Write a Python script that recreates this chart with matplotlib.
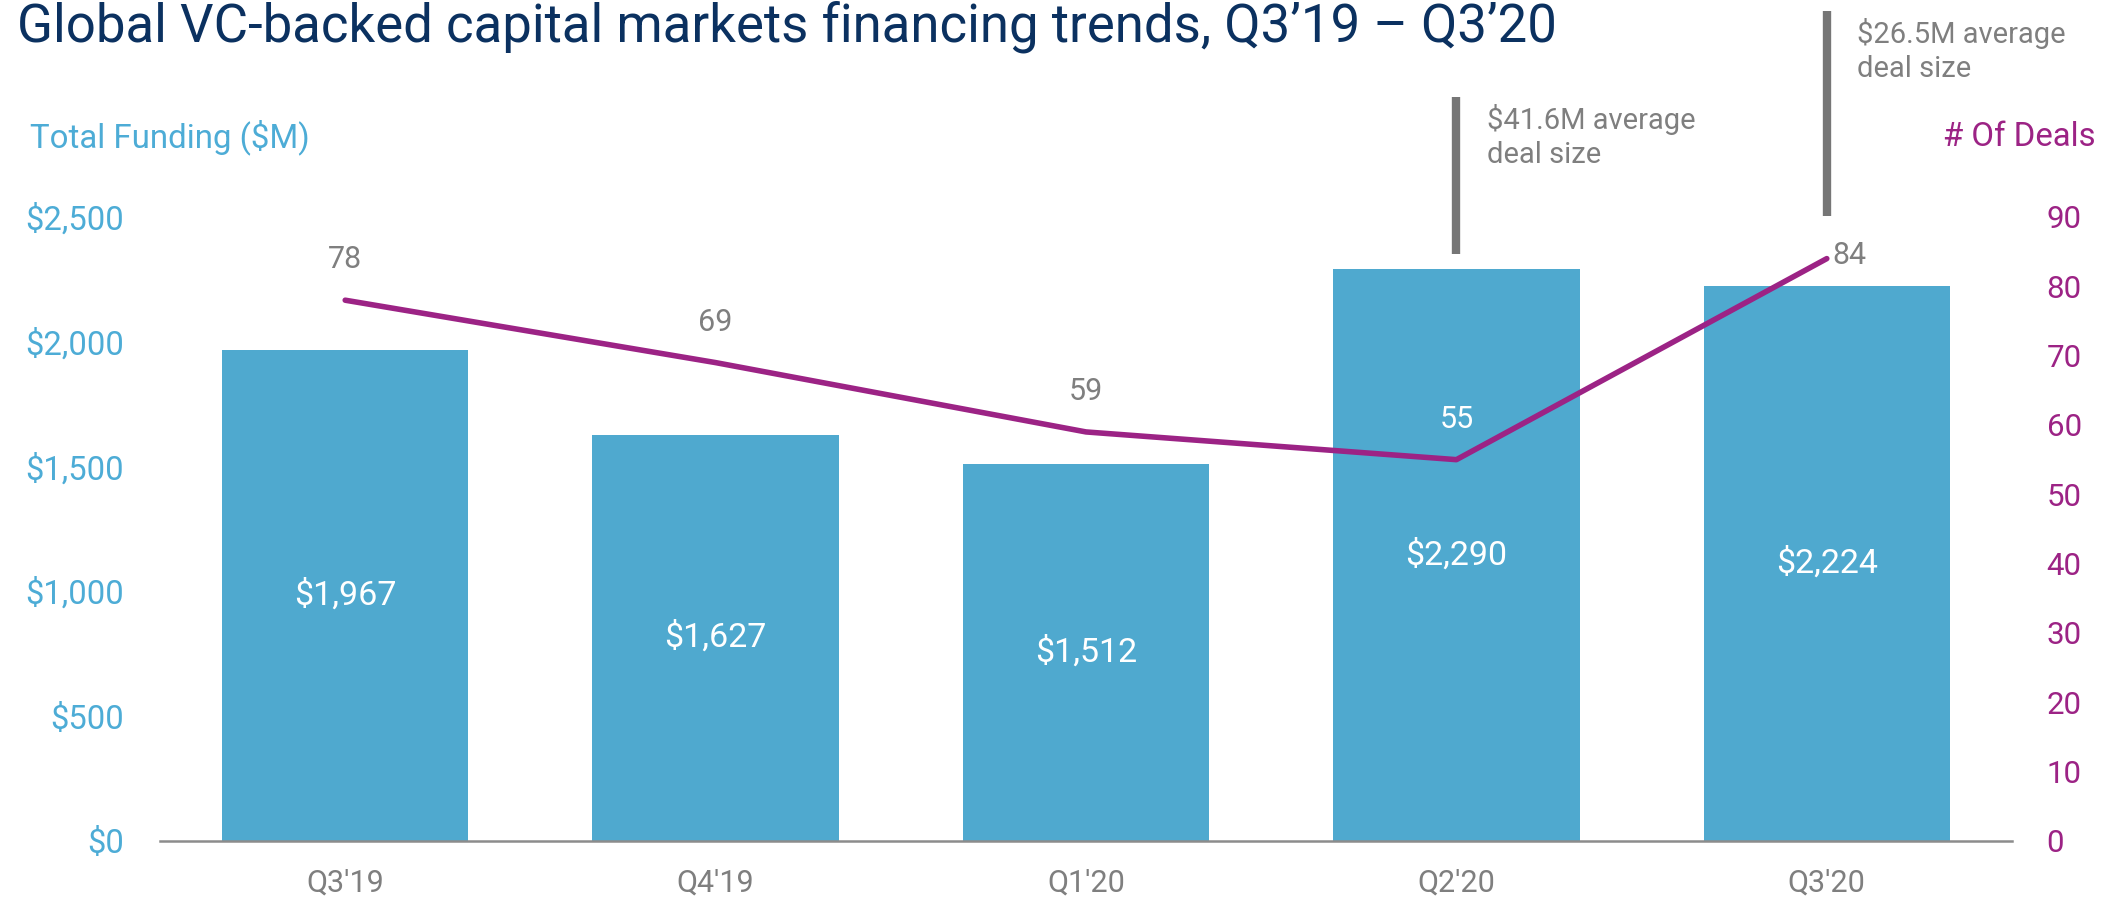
import matplotlib
matplotlib.use("Agg")
import matplotlib.pyplot as plt

# Quarterly financing data
quarters = ["Q3'19", "Q4'19", "Q1'20", "Q2'20", "Q3'20"]
funding = [1967, 1627, 1512, 2290, 2224]
deals = [78, 69, 59, 55, 84]
funding_ticks = [0, 500, 1000, 1500, 2000, 2500]
deal_ticks = [0, 10, 20, 30, 40, 50, 60, 70, 80, 90]

# Callouts: (bar index, text, line bottom, line top) in funding units
callouts = [
    (3, "$41.6M average\ndeal size", 2350, 2980),
    (4, "$26.5M average\ndeal size", 2505, 3325),
]

BAR_BLUE = "#4FA9CF"
AXIS_BLUE = "#4DACD6"
PURPLE = "#9C2385"
GREY = "#7F7F7F"
NAVY = "#0B3160"

plt.rcParams["font.family"] = ["Roboto", "DejaVu Sans"]

fig = plt.figure(figsize=(21.16, 8.99), dpi=100)
ax = fig.add_axes([160 / 2116, 58 / 899, 1852 / 2116, 624 / 899])
ax2 = ax.twinx()

x = list(range(len(quarters)))
bars = ax.bar(x, funding, width=0.665, color=BAR_BLUE, zorder=2)
ax.set_xlim(-0.5, len(quarters) - 0.5)
ax.set_ylim(0, 2500)
ax.set_yticks(funding_ticks)
ax.set_yticklabels([f"${v:,}" for v in funding_ticks])
ax.set_xticks(x)
ax.set_xticklabels(quarters)
ax.tick_params(axis="y", length=0, pad=26, labelsize=23.6, labelcolor=AXIS_BLUE)
ax.tick_params(axis="x", length=0, pad=20, labelsize=22, labelcolor=GREY)
for side in ["top", "left", "right"]:
    ax.spines[side].set_visible(False)
ax.spines["bottom"].set_color("#8C8C8C")
ax.spines["bottom"].set_linewidth(1.8)

# value labels in the middle of each bar
for xi, v in zip(x, funding):
    ax.text(xi, v / 2, f"${v:,}", ha="center", va="center",
            color="white", fontsize=24.5, zorder=4)

# deal count line on the right axis
ax2.plot(x, deals, color=PURPLE, linewidth=4, solid_capstyle="round", zorder=3)
ax2.set_ylim(0, 90)
ax2.set_yticks(deal_ticks)
ax2.tick_params(axis="y", length=0, pad=25, labelsize=22.5, labelcolor=PURPLE)
for side in ["top", "left", "right", "bottom"]:
    ax2.spines[side].set_visible(False)

for xi, d in zip(x[:-1], deals[:-1]):
    color = "white" if funding[xi] * 90 / 2500 > d + 5 else GREY
    ax2.annotate(str(d), (xi, d), xytext=(0, 29), textcoords="offset points",
                 ha="center", va="center", fontsize=22, color=color)
ax2.annotate(str(deals[-1]), (x[-1], deals[-1]), xytext=(4, 2),
             textcoords="offset points", ha="left", va="center",
             fontsize=22, color=GREY)

# average deal size callouts
for idx, label, y0, y1 in callouts:
    ax.plot([idx, idx], [y0, y1], color="#767676", linewidth=6,
            solid_capstyle="butt", clip_on=False, zorder=5)
    ax.annotate(label, (idx, y1), xytext=(22, -5), textcoords="offset points",
                ha="left", va="top", fontsize=21, color=GREY,
                linespacing=1.25, annotation_clip=False)

fig.text(17 / 2116, 1 - 27 / 899,
         "Global VC-backed capital markets financing trends, Q3\u201919 \u2013 Q3\u201920",
         ha="left", va="center", fontsize=38, color=NAVY)
fig.text(30 / 2116, 1 - 137 / 899, "Total Funding ($M)", ha="left",
         va="center", fontsize=23.8, color=AXIS_BLUE)
fig.text(2096 / 2116, 1 - 137 / 899, "# Of Deals", ha="right",
         va="center", fontsize=23.7, color=PURPLE)

fig.savefig("out.png", dpi=100)
